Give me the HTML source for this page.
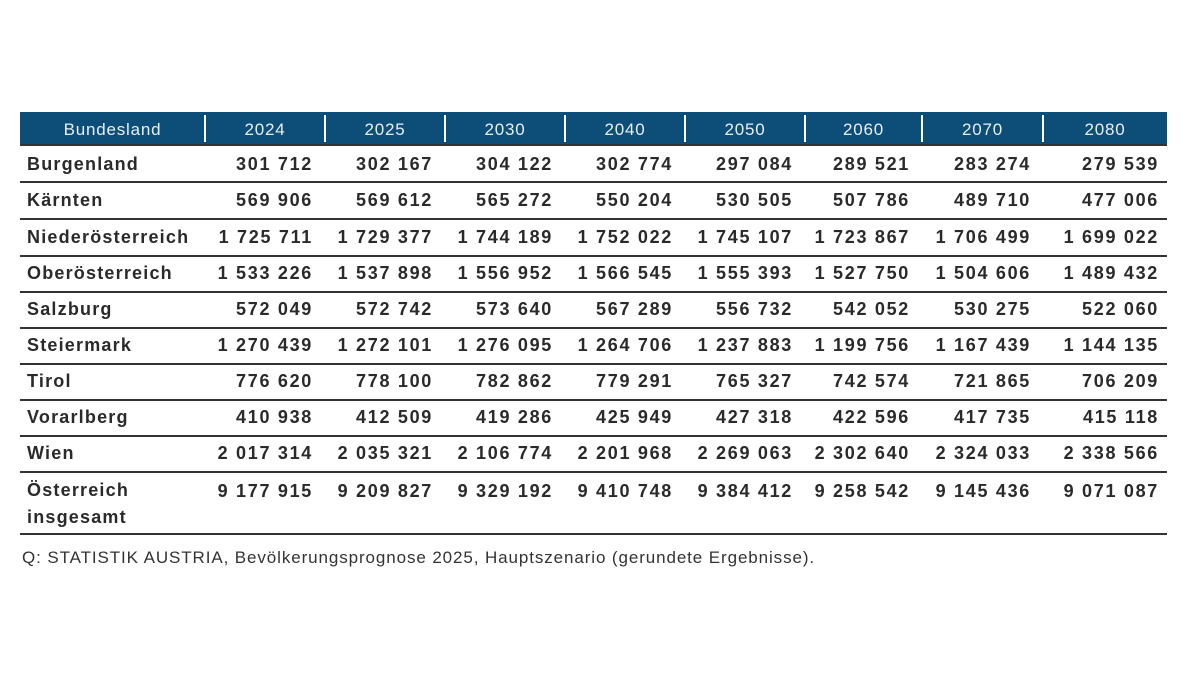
<!DOCTYPE html>
<html><head><meta charset="utf-8"><style>
body{margin:0;width:1200px;height:675px;background:#fff;position:relative;overflow:hidden;font-family:"Liberation Sans",sans-serif}
.hdr{position:absolute;left:20px;top:112px;width:1147px;height:32px;background:#0d4e78}
.sep{position:absolute;top:115px;width:2px;height:27px;background:#fff}
.ht{position:absolute;top:114px;height:32px;line-height:32px;color:#e8eef4;font-size:17px;text-align:center;letter-spacing:0.8px}
.ln{position:absolute;left:20px;width:1147px;height:2px;background:#333}
.c{position:absolute;font-size:18px;font-weight:bold;color:#2a2a2a;letter-spacing:1.7px;line-height:20px;white-space:nowrap}
.nm{letter-spacing:1.2px}
.n{text-align:right}
.foot{position:absolute;left:22px;top:548px;font-size:17px;color:#333;letter-spacing:0.9px}
</style></head><body>
<div class="hdr"></div>
<div id="t"></div>
<div class="foot">Q: STATISTIK AUSTRIA, Bevölkerungsprognose 2025, Hauptszenario (gerundete Ergebnisse).</div>
<script>
var t=document.getElementById('t'),h='';
var xs=[20,205,325,445,565,685,805,922,1043,1167];
var heads=['Bundesland','2024','2025','2030','2040','2050','2060','2070','2080'];
for(var i=0;i<9;i++){h+='<div class="ht" style="left:'+xs[i]+'px;width:'+(xs[i+1]-xs[i])+'px">'+heads[i]+'</div>';if(i>0)h+='<div class="sep" style="left:'+(xs[i]-1)+'px"></div>';}
var rows=[
['Burgenland','301 712','302 167','304 122','302 774','297 084','289 521','283 274','279 539'],
['Kärnten','569 906','569 612','565 272','550 204','530 505','507 786','489 710','477 006'],
['Niederösterreich','1 725 711','1 729 377','1 744 189','1 752 022','1 745 107','1 723 867','1 706 499','1 699 022'],
['Oberösterreich','1 533 226','1 537 898','1 556 952','1 566 545','1 555 393','1 527 750','1 504 606','1 489 432'],
['Salzburg','572 049','572 742','573 640','567 289','556 732','542 052','530 275','522 060'],
['Steiermark','1 270 439','1 272 101','1 276 095','1 264 706','1 237 883','1 199 756','1 167 439','1 144 135'],
['Tirol','776 620','778 100','782 862','779 291','765 327','742 574','721 865','706 209'],
['Vorarlberg','410 938','412 509','419 286','425 949','427 318','422 596','417 735','415 118'],
['Wien','2 017 314','2 035 321','2 106 774','2 201 968','2 269 063','2 302 640','2 324 033','2 338 566'],
['Österreich<br>insgesamt','9 177 915','9 209 827','9 329 192','9 410 748','9 384 412','9 258 542','9 145 436','9 071 087']];
var cy=[164,200,237,273,309,345,381,417,453,491];
var lines=[144,181,218,255,291,327,363,399,435,471,533];
lines.forEach(function(y){h+='<div class="ln" style="top:'+y+'px"></div>';});
rows.forEach(function(r,k){var top=cy[k]-10;
 h+='<div class="c nm" style="left:27px;top:'+top+'px;'+(k==9?'line-height:27px;top:'+(top-4)+'px':'')+'">'+r[0]+'</div>';
 for(var i=1;i<9;i++){var right=1200-xs[i+1]+ (i==8?8:12);h+='<div class="c n" style="right:'+right+'px;top:'+top+'px">'+r[i]+'</div>';}
});
t.innerHTML=h;
</script>
</body></html>
